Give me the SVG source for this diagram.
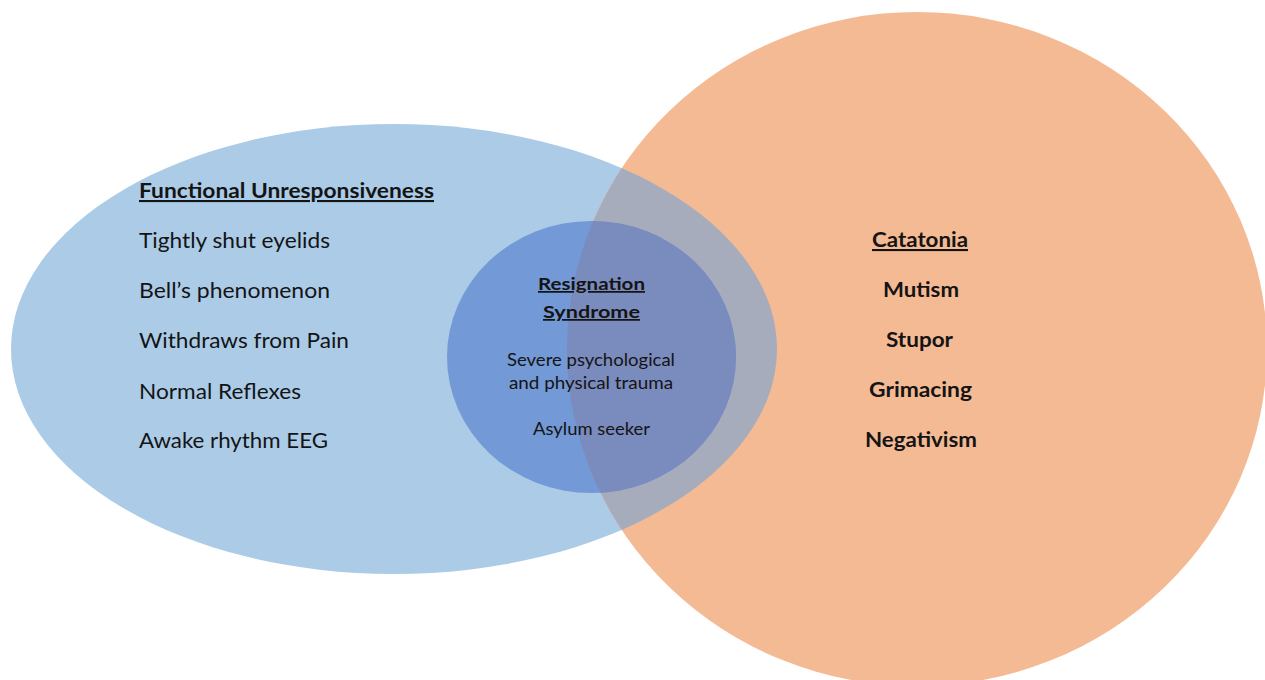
<svg xmlns="http://www.w3.org/2000/svg" width="1265" height="680" viewBox="0 0 1265 680">
  <style>
    .t { font-family: Lato, "Liberation Sans", sans-serif; fill: #141414; }
    .lg { font-size: 21px; }
    .sm { font-size: 17.5px; }
    .b { font-weight: bold; }
    .u { text-decoration: underline; }
  </style>
  <defs>
    <clipPath id="clipOrange">
      <ellipse cx="917" cy="349" rx="350" ry="337"/>
    </clipPath>
  </defs>
  <rect x="0" y="0" width="1265" height="680" fill="#ffffff"/>

  <g id="functional-unresponsiveness">
    <ellipse cx="394" cy="349" rx="383" ry="225" fill="#ABCBE7"/>
  </g>
  <g id="catatonia">
    <ellipse cx="917" cy="349" rx="350" ry="337" fill="#F4BA94"/>
  </g>
  <g id="overlap">
    <ellipse cx="394" cy="349" rx="383" ry="225" fill="#A7ACBC" clip-path="url(#clipOrange)"/>
  </g>
  <g id="resignation-syndrome">
    <ellipse cx="591.5" cy="357" rx="144.5" ry="136" fill="#7399D6"/>
    <ellipse cx="591.5" cy="357" rx="144.5" ry="136" fill="#7A8BBE" clip-path="url(#clipOrange)"/>
  </g>

  <g id="functional-text">
    <text class="t lg b u" x="139" y="198" textLength="295" lengthAdjust="spacingAndGlyphs">Functional Unresponsiveness</text>
    <text class="t lg" x="139" y="248" textLength="191" lengthAdjust="spacingAndGlyphs">Tightly shut eyelids</text>
    <text class="t lg" x="139" y="298" textLength="191" lengthAdjust="spacingAndGlyphs">Bell’s phenomenon</text>
    <text class="t lg" x="139" y="348" textLength="210" lengthAdjust="spacingAndGlyphs">Withdraws from Pain</text>
    <text class="t lg" x="139" y="399" textLength="162" lengthAdjust="spacingAndGlyphs">Normal Reflexes</text>
    <text class="t lg" x="139" y="448" textLength="189" lengthAdjust="spacingAndGlyphs">Awake rhythm EEG</text>
  </g>

  <g id="catatonia-text">
    <text class="t lg b u" x="872" y="247" textLength="96" lengthAdjust="spacingAndGlyphs">Catatonia</text>
    <text class="t lg b" x="883" y="297" textLength="76" lengthAdjust="spacingAndGlyphs">Mutism</text>
    <text class="t lg b" x="886" y="347" textLength="67" lengthAdjust="spacingAndGlyphs">Stupor</text>
    <text class="t lg b" x="869" y="397" textLength="103" lengthAdjust="spacingAndGlyphs">Grimacing</text>
    <text class="t lg b" x="865" y="447" textLength="112" lengthAdjust="spacingAndGlyphs">Negativism</text>
  </g>

  <g id="resignation-text">
    <text class="t sm b u" x="538" y="290" textLength="107" lengthAdjust="spacingAndGlyphs">Resignation</text>
    <text class="t sm b u" x="543" y="318" textLength="97" lengthAdjust="spacingAndGlyphs">Syndrome</text>
    <text class="t sm" x="507" y="366" textLength="168" lengthAdjust="spacingAndGlyphs">Severe psychological</text>
    <text class="t sm" x="509" y="389" textLength="164" lengthAdjust="spacingAndGlyphs">and physical trauma</text>
    <text class="t sm" x="533" y="435" textLength="117" lengthAdjust="spacingAndGlyphs">Asylum seeker</text>
  </g>
</svg>
